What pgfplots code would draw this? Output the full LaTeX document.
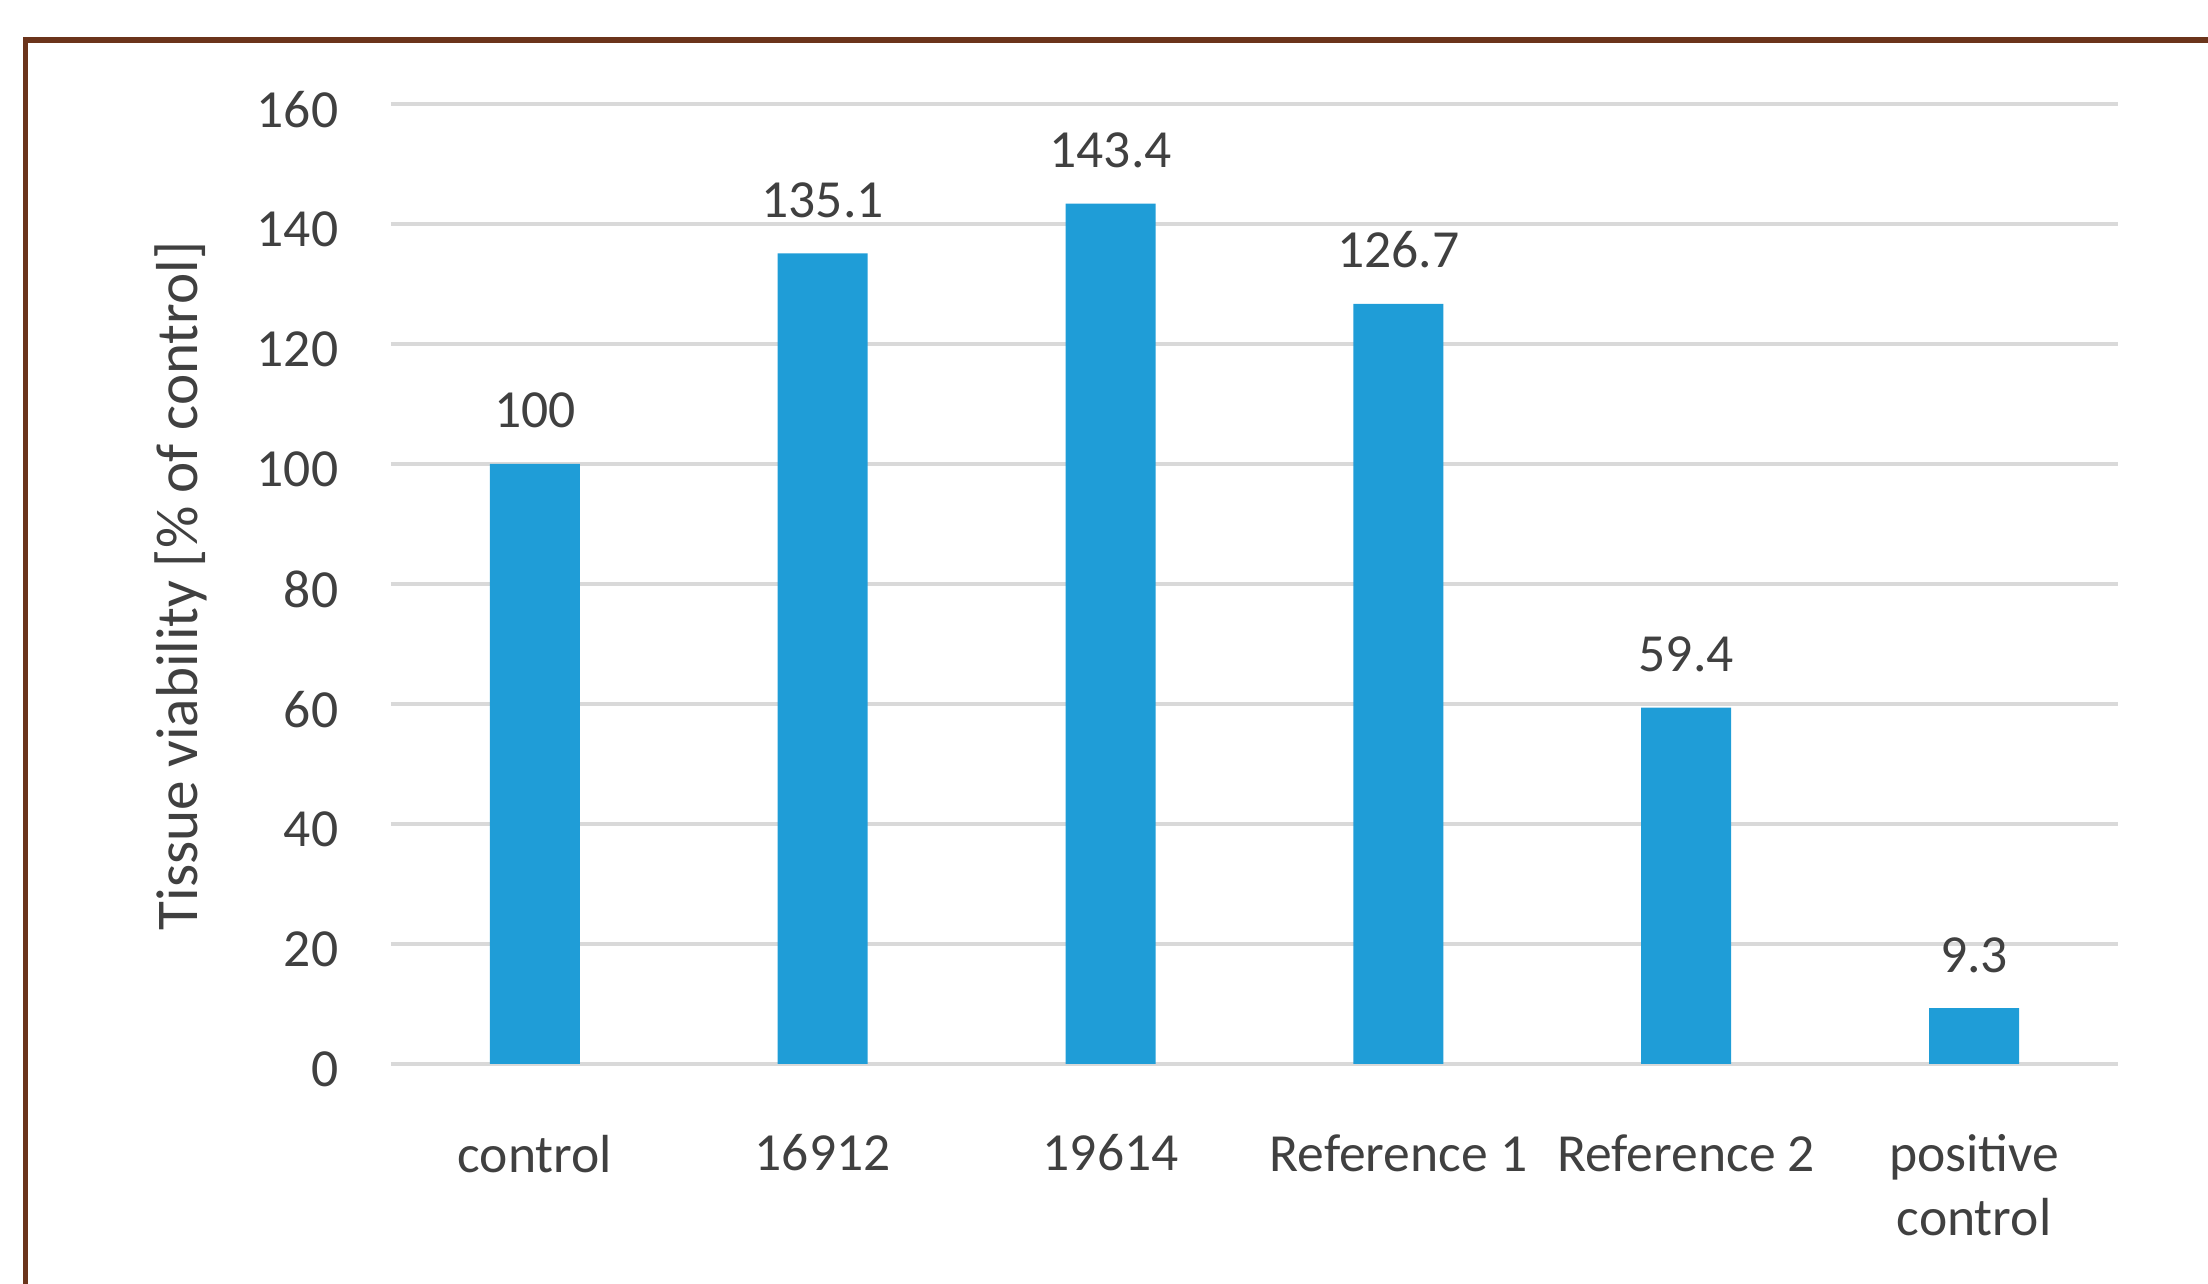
\documentclass[border=0pt]{standalone}
\usepackage{pgfplots}
\pgfplotsset{compat=1.18}
\usepackage{fontspec}
\setmainfont{Carlito}
\definecolor{barblue}{RGB}{31,157,215}
\definecolor{txtgray}{RGB}{64,64,64}
\definecolor{gridgray}{RGB}{217,217,217}
\definecolor{framebrown}{RGB}{107,52,27}
\begin{document}
\begin{tikzpicture}
\path[use as bounding box] (-97.75pt,-55pt) rectangle (454.25pt,266pt);
\begin{axis}[
  at={(0,0)}, anchor=south west,
  scale only axis,
  width=431.75pt, height=240pt,
  xmin=-0.5, xmax=5.5,
  ymin=0, ymax=160,
  ytick={0,20,...,160},
  xtick={0,1,2,3,4,5},
  xticklabels={control,16912,19614,Reference 1,Reference 2,positive\\control},
  axis line style={draw=none},
  major tick length=0pt,
  ymajorgrids,
  grid style={line width=1.1pt, gridgray},
  /pgf/number format/assume math mode=true,
  font=\fontsize{13.4}{16}\selectfont,
  tick label style={text=txtgray, font=\fontsize{13.4}{16}\selectfont},
  y tick label style={anchor=east, inner sep=0pt, xshift=-13pt, yshift=-1.3pt},
  x tick label style={anchor=north, inner sep=0pt, yshift=-17.5pt, align=center},
  every axis y label/.style={at={(axis description cs:-0.1215,0.498)}, rotate=90, anchor=center, text=txtgray, font=\fontsize{14.8}{17}\selectfont},
  ylabel={Tissue viability [\% of control]},
  point meta=explicit symbolic,
  nodes near coords,
  every node near coord/.style={anchor=base, yshift=9pt, text=txtgray, font=\fontsize{13.4}{16}\selectfont},
]
\addplot[ybar, bar width=22.5pt, fill=barblue, draw=none] coordinates {
  (0,100) [100]
  (1,135.1) [135.1]
  (2,143.4) [143.4]
  (3,126.7) [126.7]
  (4,59.4) [59.4]
  (5,9.3) [9.3]
};
\end{axis}
\draw[line width=1.4pt, framebrown] (-91.4pt,-80pt) -- (-91.4pt,256pt) -- (480pt,256pt);
\end{tikzpicture}
\end{document}
